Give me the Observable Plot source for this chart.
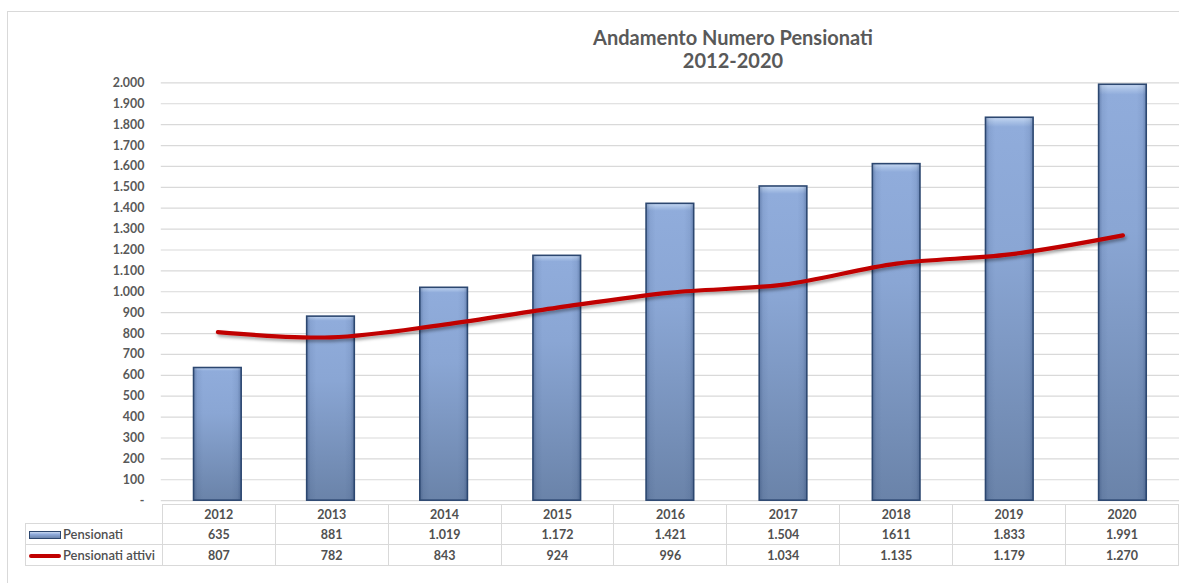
<!DOCTYPE html>
<html><head><meta charset="utf-8">
<script src="https://cdn.jsdelivr.net/npm/d3@7"></script>
<script src="https://cdn.jsdelivr.net/npm/@observablehq/plot@0.6"></script>
<style>
body{margin:0;background:#fff;}
#wrap{position:relative;width:1179px;height:583px;overflow:hidden;font-family:Lato,"Open Sans",sans-serif;background:#fff;}
#frame{position:absolute;left:7px;top:11px;width:1300px;height:700px;border:1px solid #d9d9d9;}
#title{position:absolute;left:433px;width:600px;top:26px;text-align:center;font-weight:bold;font-size:20px;color:#595959;line-height:23px;}
#chart{position:absolute;left:0;top:0;}
#table{position:absolute;left:25px;top:504px;border-collapse:collapse;table-layout:fixed;color:#505050;font-size:12.5px;}
#table td{border:1px solid #d9d9d9;text-align:center;font-weight:bold;padding:0;white-space:nowrap;overflow:hidden;}
#table td.lab{text-align:left;font-weight:600;padding-left:3px;font-size:13px;}
#table tr.h td{height:18px;}
#table tr.r1 td{height:20px;}
#table tr.r2 td{height:20px;}
#table td.blank{border-top:none;border-left:none;}
.sw{display:inline-block;width:30px;height:6px;vertical-align:middle;margin-right:2px;position:relative;top:-1px;}
.sw.bar{border:1px solid #2c4770;background:linear-gradient(#c8d8f0,#8eaadb 40%,#6d86ad);}
.sw.line{height:4px;background:#c00000;border-radius:2px;width:32px;}
</style>
</head><body>
<div id="wrap">
  <div id="frame"></div>
  <div id="chart"></div>
  <div id="title">Andamento Numero Pensionati<br>2012-2020</div>
  <table id="table"></table>
</div>
<script>
const years = [2012, 2013, 2014, 2015, 2016, 2017, 2018, 2019, 2020];
const pensionati = [635, 881, 1019, 1172, 1421, 1504, 1611, 1833, 1991];
const pensionatiAttivi = [807, 782, 843, 924, 996, 1034, 1135, 1179, 1270];
const pensionatiLabels = ["635", "881", "1.019", "1.172", "1.421", "1.504", "1611", "1.833", "1.991"];
const attiviLabels = ["807", "782", "843", "924", "996", "1.034", "1.135", "1.179", "1.270"];
const seriesNames = ["Pensionati", "Pensionati attivi"];
const yTicks = d3.range(0, 2001, 100);

const data = years.map((y, i) => ({year: String(y), pensionati: pensionati[i], attivi: pensionatiAttivi[i]}));
const it = d3.formatLocale({decimal: ",", thousands: ".", grouping: [3], currency: ["€", ""]});
const fmt = it.format(",d");

const plot = Plot.plot({
  width: 1188,
  height: 514,
  marginLeft: 162,
  marginRight: 0,
  marginTop: 83,
  marginBottom: 10,
  style: {fontFamily: "Lato, 'Open Sans', sans-serif", fontWeight: "bold", color: "#595959", fontSize: "12.5px", background: "transparent"},
  x: {domain: years.map(String), paddingInner: 0.58, paddingOuter: 0.29, axis: null},
  y: {domain: [0, 2000], axis: null},
  marks: [
    Plot.gridY(yTicks, {stroke: "#d9d9d9", strokeOpacity: 1, strokeWidth: 1.2}),
    Plot.axisY(yTicks, {tickSize: 0, tickPadding: 17, tickFormat: d => d === 0 ? "-" : fmt(d), label: null, fontSize: 12.5}),
    Plot.barY(data, {x: "year", y: "pensionati", fill: "url(#barGradV)"}),
    Plot.barY(data, {x: "year", y: "pensionati", fill: "url(#barGradH)", stroke: "#2c4770", strokeWidth: 1.6}),
    Plot.line(data, {x: "year", y: "attivi", stroke: "#c00000", strokeWidth: 4.2, curve: "catmull-rom", strokeLinecap: "round"})
  ]
});

const svg = d3.select(plot);
const defs = svg.insert("defs", ":first-child");
const gv = defs.append("linearGradient").attr("id", "barGradV").attr("x1", 0).attr("y1", 0).attr("x2", 0).attr("y2", 1);
[[0, "#c6d8f2"], [0.012, "#a9c1e6"], [0.025, "#90acdb"], [0.35, "#8aa6d4"], [1, "#6a83a9"]].forEach(([o, c]) => gv.append("stop").attr("offset", o).attr("stop-color", c));
const gh = defs.append("linearGradient").attr("id", "barGradH").attr("x1", 0).attr("y1", 0).attr("x2", 1).attr("y2", 0);
[[0, "#1f3864", 0.35], [0.08, "#1f3864", 0.08], [0.2, "#1f3864", 0], [0.8, "#1f3864", 0], [0.92, "#1f3864", 0.08], [1, "#1f3864", 0.35]].forEach(([o, c, a]) => gh.append("stop").attr("offset", o).attr("stop-color", c).attr("stop-opacity", a));
const f = defs.append("filter").attr("id", "shadow").attr("x", "-5%").attr("y", "-50%").attr("width", "110%").attr("height", "200%");
f.append("feDropShadow").attr("dx", 1.5).attr("dy", 2.5).attr("stdDeviation", 1.5).attr("flood-color", "#000").attr("flood-opacity", 0.35);
svg.selectAll('g[aria-label="line"]').attr("filter", "url(#shadow)");

document.getElementById("chart").appendChild(plot);

// data table
const table = d3.select("#table");
const cg = table.append("colgroup");
cg.append("col").style("width", "137px");
years.forEach(() => cg.append("col").style("width", "114px"));
const hr = table.append("tr").attr("class", "h");
hr.append("td").attr("class", "blank");
years.forEach(y => hr.append("td").text(y));
const r1 = table.append("tr").attr("class", "r1");
r1.append("td").attr("class", "lab").html('<span class="sw bar"></span>' + seriesNames[0]);
pensionatiLabels.forEach(v => r1.append("td").text(v));
const r2 = table.append("tr").attr("class", "r2");
r2.append("td").attr("class", "lab").html('<span class="sw line"></span>' + seriesNames[1]);
attiviLabels.forEach(v => r2.append("td").text(v));
</script>
</body></html>
